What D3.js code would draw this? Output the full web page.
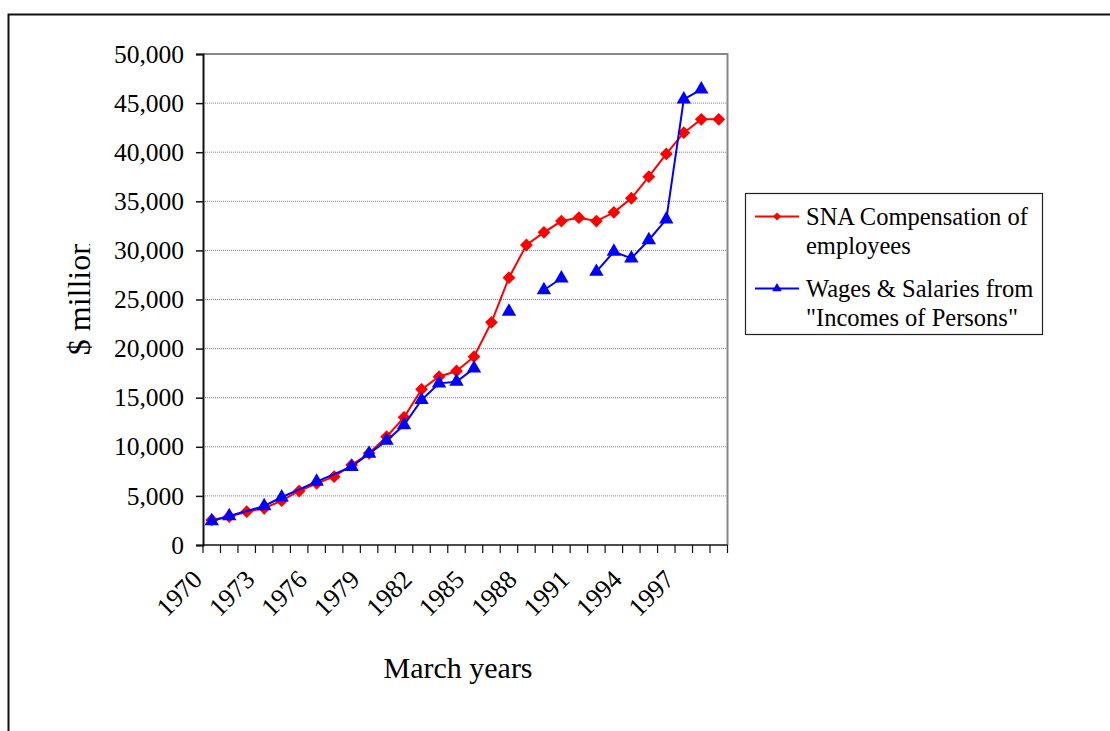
<!DOCTYPE html>
<html>
<head>
<meta charset="utf-8">
<script src="https://cdn.jsdelivr.net/npm/d3@7"></script>
<style>
  html, body { margin: 0; padding: 0; background: #fff; }
  svg { display: block; font-family: "Liberation Serif", "Times New Roman", serif; }
</style>
</head>
<body>
<div id="chart"></div>
<script>
const YEARS = [1970, 1971, 1972, 1973, 1974, 1975, 1976, 1977, 1978, 1979,
  1980, 1981, 1982, 1983, 1984, 1985, 1986, 1987, 1988, 1989,
  1990, 1991, 1992, 1993, 1994, 1995, 1996, 1997, 1998, 1999];

// SNA compensation of employees ($ million)
const SNA = [2550, 2900, 3390, 3740, 4510, 5500, 6280, 6960, 8150, 9340,
  11030, 13000, 15850, 17140, 17720, 19180, 22680, 27220, 30550, 31840,
  32990, 33330, 32990, 33880, 35310, 37510, 39820, 41990, 43350, 43350];

// wages & salaries from "Incomes of Persons" (null = no marker)
const WAGES = [2440, 2950, null, 3970, 4860, null, 6450, null, 7970, 9300,
  10620, 12220, 14770, 16460, 16630, 17990, null, 23760, null, 25970,
  27160, null, 27830, 29870, 29190, 31060, 33170, 45380, 46400, null];

// years where the wages line is broken
const WAGE_BREAKS = [1986, 1988, 1991, 1999];

const Y_TICKS = [0, 5000, 10000, 15000, 20000, 25000, 30000, 35000, 40000, 45000, 50000];
const X_LABEL_YEARS = [1970, 1973, 1976, 1979, 1982, 1985, 1988, 1991, 1994, 1997];

const SERIES_NAMES = [["SNA Compensation of", "employees"], ["Wages & Salaries from", "\"Incomes of Persons\""]];

const W = 1110, H = 731;
const plot = { left: 203, right: 727.5, top: 54, bottom: 545 };

const svg = d3.select("#chart").append("svg")
  .attr("width", W).attr("height", H);

// outer chart border (runs off the right/bottom edge)
svg.append("rect")
  .attr("x", 8.5).attr("y", 14.5)
  .attr("width", 1200).attr("height", 800)
  .attr("fill", "#fff")
  .attr("stroke", "#111").attr("stroke-width", 2);

const x = d3.scaleBand().domain(YEARS).range([plot.left, plot.right]).padding(0);
const y = d3.scaleLinear().domain([0, 50000]).range([plot.bottom, plot.top]);
const cx = yr => x(yr) + x.bandwidth() / 2;

// gridlines
svg.append("g")
  .selectAll("line")
  .data(Y_TICKS.filter(d => d > 0 && d < 50000))
  .join("line")
  .attr("x1", plot.left).attr("x2", plot.right)
  .attr("y1", d => y(d)).attr("y2", d => y(d))
  .attr("stroke", "#808080").attr("stroke-width", 1)
  .attr("stroke-dasharray", "1,1");

// plot area top / right border
svg.append("path")
  .attr("d", `M${plot.left},${plot.top}H${plot.right}V${plot.bottom}`)
  .attr("fill", "none").attr("stroke", "#888").attr("stroke-width", 2);

// y axis
const yAxis = svg.append("g")
  .attr("transform", `translate(${plot.left},0)`)
  .call(d3.axisLeft(y).tickValues(Y_TICKS).tickSize(7).tickPadding(12)
    .tickFormat(d3.format(",")));
yAxis.select(".domain").attr("stroke", "#111").attr("stroke-width", 2);
yAxis.selectAll(".tick line").attr("stroke", "#111").attr("stroke-width", 1.5);
yAxis.selectAll("text")
  .attr("font-size", "25.5px").attr("fill", "#000")
  .attr("font-family", "Liberation Serif, Times New Roman, serif");

// x axis: ticks at category boundaries
const bounds = YEARS.map(d => x(d)).concat([plot.right]);
svg.append("line")
  .attr("x1", plot.left).attr("x2", plot.right)
  .attr("y1", plot.bottom).attr("y2", plot.bottom)
  .attr("stroke", "#111").attr("stroke-width", 1.5);
svg.append("g").selectAll("line")
  .data(bounds)
  .join("line")
  .attr("x1", d => d).attr("x2", d => d)
  .attr("y1", plot.bottom).attr("y2", plot.bottom + 8)
  .attr("stroke", "#111").attr("stroke-width", 1.2);

svg.append("g").selectAll("text")
  .data(X_LABEL_YEARS)
  .join("text")
  .attr("transform", d => `translate(${cx(d) - 8},${plot.bottom + 36}) rotate(-45)`)
  .attr("text-anchor", "end")
  .attr("font-size", "26px")
  .text(d => d);

// axis titles
svg.append("text")
  .attr("x", 458).attr("y", 678)
  .attr("text-anchor", "middle")
  .attr("font-size", "30px")
  .text("March years");

// the reference cuts off the end of the y title
svg.append("clipPath").attr("id", "ytitle-clip")
  .append("rect").attr("x", 0).attr("y", 244).attr("width", 200).attr("height", 400);
svg.append("g")
  .attr("clip-path", "url(#ytitle-clip)")
  .append("text")
  .attr("transform", `translate(90,297) rotate(-90)`)
  .attr("text-anchor", "middle")
  .attr("font-size", "32px")
  .text("$ million");

// series
const line = d3.line().x(d => cx(d.year)).y(d => y(d.value));

const snaPts = YEARS.map((yr, i) => ({ year: yr, value: SNA[i] }));
svg.append("path")
  .datum(snaPts)
  .attr("d", line)
  .attr("fill", "none").attr("stroke", "#ff0000").attr("stroke-width", 2);

const diamond = d3.symbol(d3.symbolSquare, 82);
const triangle = d3.symbol(d3.symbolTriangle, 90);

svg.append("g").selectAll("path")
  .data(snaPts)
  .join("path")
  .attr("d", diamond)
  .attr("transform", d => `translate(${cx(d.year)},${y(d.value)}) rotate(45)`)
  .attr("fill", "#ff0000");

// wages: split into runs at the break years
const runs = [[]];
YEARS.forEach((yr, i) => {
  if (WAGE_BREAKS.includes(yr)) { runs.push([]); return; }
  if (WAGES[i] != null) runs[runs.length - 1].push({ year: yr, value: WAGES[i] });
});
svg.append("g").selectAll("path")
  .data(runs.filter(r => r.length > 1))
  .join("path")
  .attr("d", line)
  .attr("fill", "none").attr("stroke", "#0000ff").attr("stroke-width", 2);

const wagePts = YEARS.map((yr, i) => ({ year: yr, value: WAGES[i] })).filter(d => d.value != null);
svg.append("g").selectAll("path")
  .data(wagePts)
  .join("path")
  .attr("d", triangle)
  .attr("transform", d => `translate(${cx(d.year)},${y(d.value)})`)
  .attr("fill", "#0000ff");

// legend
const legend = svg.append("g");
legend.append("rect")
  .attr("x", 745.5).attr("y", 193.5).attr("width", 297).attr("height", 141)
  .attr("fill", "#fff").attr("stroke", "#222").attr("stroke-width", 1.2);

const legendRows = [
  { color: "#ff0000", sym: d3.symbol(d3.symbolSquare, 34), rot: 45, y: 216.5, lines: SERIES_NAMES[0] },
  { color: "#0000ff", sym: d3.symbol(d3.symbolTriangle, 40), rot: 0, y: 288.5, lines: SERIES_NAMES[1] }
];
legendRows.forEach(r => {
  legend.append("line")
    .attr("x1", 755).attr("x2", 799).attr("y1", r.y).attr("y2", r.y)
    .attr("stroke", r.color).attr("stroke-width", 2);
  legend.append("path")
    .attr("d", r.sym)
    .attr("transform", `translate(777,${r.y}) rotate(${r.rot})`)
    .attr("fill", r.color);
  r.lines.forEach((t, j) => {
    legend.append("text")
      .attr("x", 806).attr("y", r.y + 8 + j * 29)
      .attr("font-size", "24.5px")
      .text(t);
  });
});
</script>
</body>
</html>
